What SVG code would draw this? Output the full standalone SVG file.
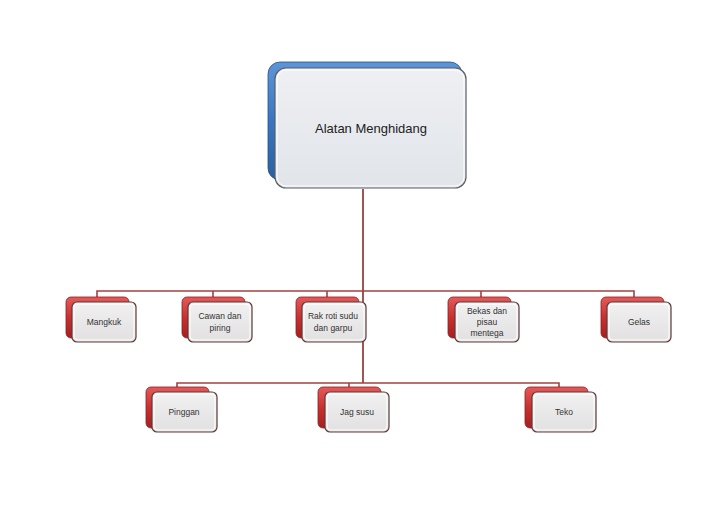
<svg xmlns="http://www.w3.org/2000/svg" width="728" height="515" viewBox="0 0 728 515">
<defs>
<linearGradient id="gRed" x1="0" y1="0" x2="0" y2="1">
<stop offset="0" stop-color="#e35a5a"/>
<stop offset="0.5" stop-color="#c9302f"/>
<stop offset="1" stop-color="#a51f1f"/>
</linearGradient>
<linearGradient id="gBlue" x1="0" y1="0" x2="0" y2="1">
<stop offset="0" stop-color="#5d95d6"/>
<stop offset="0.5" stop-color="#3a76c0"/>
<stop offset="1" stop-color="#2c5f9e"/>
</linearGradient>
<linearGradient id="gFace" x1="0" y1="0" x2="0" y2="1">
<stop offset="0" stop-color="#f1f1f1"/>
<stop offset="1" stop-color="#e2e0e0"/>
</linearGradient>
<linearGradient id="gFaceMain" x1="0" y1="0" x2="0" y2="1">
<stop offset="0" stop-color="#eef0f3"/>
<stop offset="1" stop-color="#e1e4e9"/>
</linearGradient>
</defs>
<style>
.back{fill:url(#gRed);stroke:#8e1f1f;stroke-width:0.8}
.face{fill:url(#gFace);stroke:#5b3a3a;stroke-width:1.2}
.inner{fill:none;stroke:#ffffff;stroke-width:1}
.conn{fill:none;stroke:#a44042;stroke-width:1.6}
.t{font-family:"Liberation Sans",Arial,sans-serif;font-size:8.5px;fill:#333;text-anchor:middle}
.tm{font-family:"Liberation Sans",Arial,sans-serif;font-size:13px;fill:#222;text-anchor:middle}
</style>
<rect width="728" height="515" fill="#ffffff"/>
<g id="connectors">
<path class="conn" d="M363,189 V383" style="stroke:#8a2a2a"/>
<path class="conn" d="M97,302 V291 H634 V302"/>
<path class="conn" d="M213,291 V302 M327,291 V302 M481,291 V302"/>
<path class="conn" d="M177,392 V383 H559 V393"/>
<path class="conn" d="M349,383 V392"/>
</g>
<g id="main">
<rect x="268" y="62" width="194" height="118" rx="12" fill="url(#gBlue)" stroke="#23518a" stroke-width="0.8"/>
<rect x="275" y="68" width="191" height="120" rx="11" fill="url(#gFaceMain)" stroke="#5b5f66" stroke-width="1.2"/>
<rect x="277" y="70" width="187" height="116" rx="9" class="inner"/>
<text class="tm" x="371" y="133">Alatan Menghidang</text>
</g>
<g id="mangkuk">
<rect class="back" x="66" y="297" width="63" height="41" rx="5"/>
<rect class="face" x="72" y="302" width="64" height="40" rx="5"/>
<rect class="inner" x="74" y="304" width="60" height="36" rx="4"/>
<text class="t" x="104" y="325">Mangkuk</text>
</g>
<g id="cawan">
<rect class="back" x="182" y="297" width="63" height="41" rx="5"/>
<rect class="face" x="188" y="302" width="64" height="40" rx="5"/>
<rect class="inner" x="190" y="304" width="60" height="36" rx="4"/>
<text class="t" x="220" y="319">Cawan dan</text>
<text class="t" x="220" y="331">piring</text>
</g>
<g id="rakroti">
<rect class="back" x="296" y="297" width="63" height="41" rx="5"/>
<rect class="face" x="302" y="302" width="64" height="40" rx="5"/>
<rect class="inner" x="304" y="304" width="60" height="36" rx="4"/>
<text class="t" x="333" y="319">Rak roti sudu</text>
<text class="t" x="333" y="331">dan garpu</text>
</g>
<g id="bekas">
<rect class="back" x="448" y="297" width="63" height="41" rx="5"/>
<rect class="face" x="455" y="302" width="64" height="40" rx="5"/>
<rect class="inner" x="457" y="304" width="60" height="36" rx="4"/>
<text class="t" x="487" y="314">Bekas dan</text>
<text class="t" x="487" y="325">pisau</text>
<text class="t" x="487" y="336">mentega</text>
</g>
<g id="gelas">
<rect class="back" x="601" y="297" width="63" height="41" rx="5"/>
<rect class="face" x="607" y="302" width="64" height="40" rx="5"/>
<rect class="inner" x="609" y="304" width="60" height="36" rx="4"/>
<text class="t" x="639" y="325">Gelas</text>
</g>
<g id="pinggan">
<rect class="back" x="146" y="387" width="63" height="41" rx="5"/>
<rect class="face" x="152" y="392" width="65" height="40" rx="5"/>
<rect class="inner" x="154" y="394" width="61" height="36" rx="4"/>
<text class="t" x="184" y="415">Pinggan</text>
</g>
<g id="jagsusu">
<rect class="back" x="318" y="387" width="63" height="41" rx="5"/>
<rect class="face" x="325" y="392" width="64" height="40" rx="5"/>
<rect class="inner" x="327" y="394" width="60" height="36" rx="4"/>
<text class="t" x="357" y="415">Jag susu</text>
</g>
<g id="teko">
<rect class="back" x="525" y="387" width="63" height="41" rx="5"/>
<rect class="face" x="532" y="392" width="64" height="40" rx="5"/>
<rect class="inner" x="534" y="394" width="60" height="36" rx="4"/>
<text class="t" x="564" y="415">Teko</text>
</g>
</svg>
